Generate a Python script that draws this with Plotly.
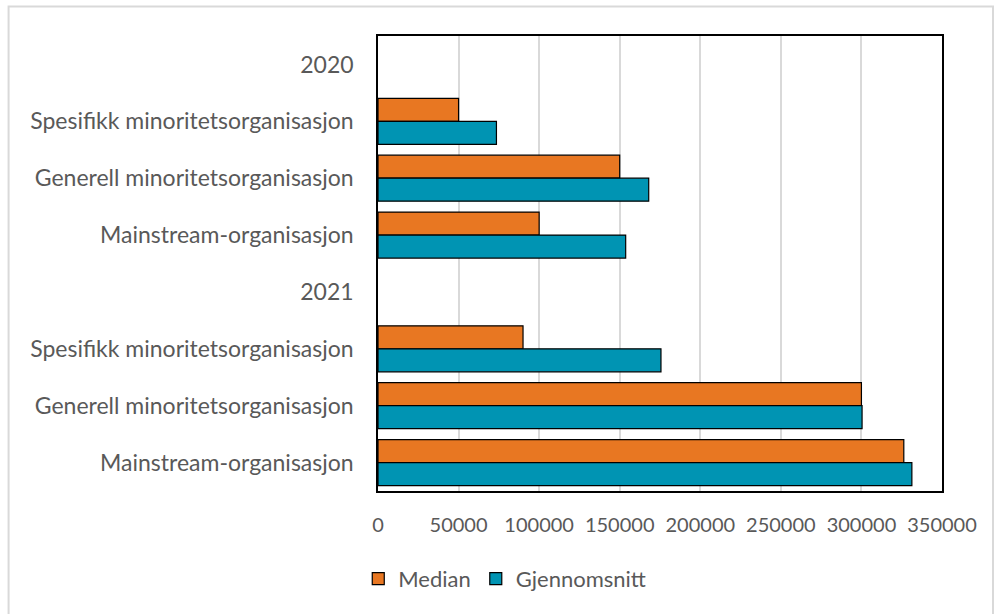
import plotly.graph_objects as go

categories = ["2020", "Spesifikk minoritetsorganisasjon", "Generell minoritetsorganisasjon",
              "Mainstream-organisasjon", "2021", "Spesifikk minoritetsorganisasjon",
              "Generell minoritetsorganisasjon", "Mainstream-organisasjon"]
median = [None, 50000, 150000, 100000, None, 90000, 300000, 326300]
gjennomsnitt = [None, 73500, 168000, 153700, None, 175600, 300400, 331300]
x_ticks = [0, 50000, 100000, 150000, 200000, 250000, 300000, 350000]

ypos = list(range(len(categories)))
font_family = "Lato, 'Source Sans Pro', 'Noto Sans', sans-serif"
txt = "#595959"

fig = go.Figure()
fig.add_trace(go.Bar(y=ypos, x=median, orientation="h", name="Median",
                     marker=dict(color="#E87722", line=dict(color="#000000", width=1.2))))
fig.add_trace(go.Bar(y=ypos, x=gjennomsnitt, orientation="h", name="Gjennomsnitt",
                     marker=dict(color="#0094B3", line=dict(color="#000000", width=1.2))))

fig.update_layout(
    width=994, height=614,
    margin=dict(l=378, r=52, t=36, b=123),
    paper_bgcolor="white", plot_bgcolor="white",
    barmode="group", bargap=0.19, bargroupgap=0,
    font=dict(family=font_family, size=20, color=txt),
    legend=dict(orientation="h", x=-0.035, y=-0.193, xanchor="left", yanchor="middle",
                font=dict(size=22, color=txt), itemwidth=30, traceorder="normal"),
    showlegend=True,
)
fig.update_xaxes(range=[0, 350000], tickvals=x_ticks, ticktext=[str(v) for v in x_ticks],
                 showgrid=True, gridcolor="#d9d9d9", gridwidth=1.5,
                 showline=True, linecolor="#000000", linewidth=1.5, mirror=True,
                 zeroline=False, ticks="", ticklabelstandoff=15,
                 tickfont=dict(size=20, color=txt))
fig.update_yaxes(tickvals=ypos, ticktext=categories, range=[len(categories) - 0.5, -0.5],
                 showgrid=False, showline=True, linecolor="#000000", linewidth=1.5, mirror=True,
                 zeroline=False, ticks="", ticklabelstandoff=18,
                 tickfont=dict(size=23, color=txt))

fig.add_shape(type="rect", xref="paper", yref="paper",
              x0=-0.655, x1=1.0904, y0=-0.3, y1=1.0648,
              line=dict(color="#d9d9d9", width=2), layer="below")

fig.write_html("out.html", config={"displayModeBar": False},
               post_script="document.body.style.margin='0';")
